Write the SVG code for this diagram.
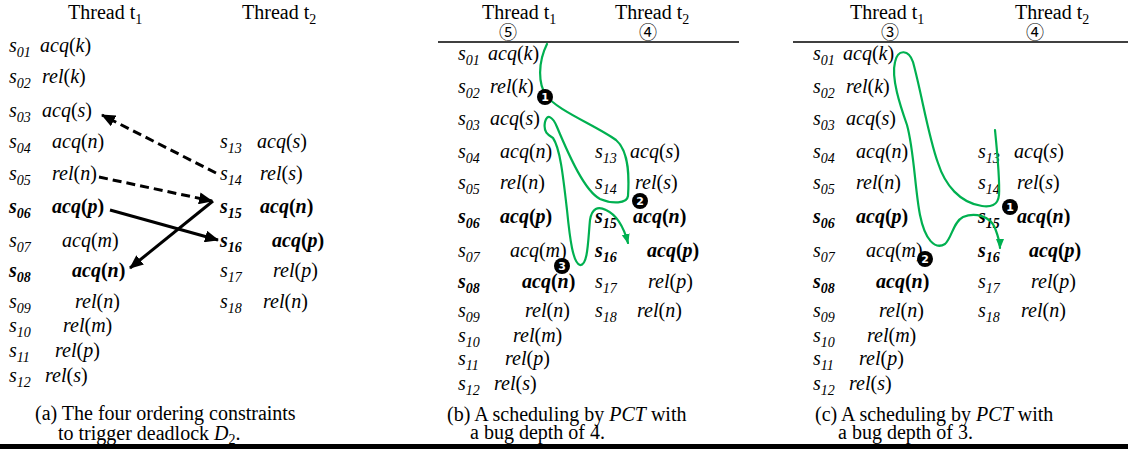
<svg xmlns="http://www.w3.org/2000/svg" width="1128" height="449" viewBox="0 0 1128 449">
<style>
.t{font-family:"Liberation Serif","Times New Roman",serif;font-size:20px;fill:#000}
.i{font-style:italic}
.b{font-weight:bold}
.n{font-style:normal}
.sub{font-size:14px}
.cn{font-family:"Noto Sans CJK SC","DejaVu Sans",sans-serif;font-size:18px;text-anchor:middle;fill:#000}
.dash{fill:none;stroke:#000;stroke-width:3;stroke-dasharray:9 5}
.solid{fill:none;stroke:#000;stroke-width:3}
.g{fill:none;stroke:#00B050;stroke-width:2.2;stroke-linecap:round}
.dot{fill:#000}
.dn{font-family:"DejaVu Sans","Liberation Sans",sans-serif;font-size:11px;font-weight:bold;fill:#fff;text-anchor:middle}
.rule{stroke:#000;stroke-width:1.5}
</style>
<defs>
<marker id="ah" markerWidth="14" markerHeight="12" refX="13" refY="6" orient="auto" markerUnits="userSpaceOnUse">
<path d="M0,0 L14,6 L0,12 Z" fill="#000"/>
</marker>
<marker id="gh" markerWidth="10" markerHeight="10" refX="9" refY="5" orient="auto" markerUnits="userSpaceOnUse">
<path d="M0,1 L10,5 L0,9 Z" fill="#00B050"/>
</marker>
</defs>
<rect width="1128" height="449" fill="#fff"/>

<!-- ===== Panel (a) ===== -->
<g id="a-head">
<text class="t" x="68" y="19">Thread t<tspan class="sub" dy="5">1</tspan></text>
<text class="t" x="242" y="19">Thread t<tspan class="sub" dy="5">2</tspan></text>
</g>
<g id="a-s01"><text class="t i" x="9" y="52">s<tspan class="sub" dy="5">01</tspan></text><text class="t i" x="40" y="52">acq<tspan class="n">(</tspan>k<tspan class="n">)</tspan></text></g>
<g id="a-s02"><text class="t i" x="9" y="83">s<tspan class="sub" dy="5">02</tspan></text><text class="t i" x="42" y="83">rel<tspan class="n">(</tspan>k<tspan class="n">)</tspan></text></g>
<g id="a-s03"><text class="t i" x="9" y="117">s<tspan class="sub" dy="5">03</tspan></text><text class="t i" x="42" y="117">acq<tspan class="n">(</tspan>s<tspan class="n">)</tspan></text></g>
<g id="a-s04"><text class="t i" x="9" y="148">s<tspan class="sub" dy="5">04</tspan></text><text class="t i" x="52" y="148">acq<tspan class="n">(</tspan>n<tspan class="n">)</tspan></text></g>
<g id="a-s05"><text class="t i" x="9" y="180">s<tspan class="sub" dy="5">05</tspan></text><text class="t i" x="52" y="180">rel<tspan class="n">(</tspan>n<tspan class="n">)</tspan></text></g>
<g id="a-s06"><text class="t i b" x="9" y="213">s<tspan class="sub" dy="5">06</tspan></text><text class="t i b" x="52" y="213">acq<tspan class="n">(</tspan>p<tspan class="n">)</tspan></text></g>
<g id="a-s07"><text class="t i" x="9" y="247">s<tspan class="sub" dy="5">07</tspan></text><text class="t i" x="62" y="247">acq<tspan class="n">(</tspan>m<tspan class="n">)</tspan></text></g>
<g id="a-s08"><text class="t i b" x="9" y="277">s<tspan class="sub" dy="5">08</tspan></text><text class="t i b" x="72" y="277">acq<tspan class="n">(</tspan>n<tspan class="n">)</tspan></text></g>
<g id="a-s09"><text class="t i" x="9" y="308">s<tspan class="sub" dy="5">09</tspan></text><text class="t i" x="75" y="308">rel<tspan class="n">(</tspan>n<tspan class="n">)</tspan></text></g>
<g id="a-s10"><text class="t i" x="9" y="332">s<tspan class="sub" dy="5">10</tspan></text><text class="t i" x="63" y="332">rel<tspan class="n">(</tspan>m<tspan class="n">)</tspan></text></g>
<g id="a-s11"><text class="t i" x="9" y="357">s<tspan class="sub" dy="5">11</tspan></text><text class="t i" x="55" y="357">rel<tspan class="n">(</tspan>p<tspan class="n">)</tspan></text></g>
<g id="a-s12"><text class="t i" x="9" y="382">s<tspan class="sub" dy="5">12</tspan></text><text class="t i" x="45" y="382">rel<tspan class="n">(</tspan>s<tspan class="n">)</tspan></text></g>
<g id="a-s13"><text class="t i" x="220" y="148">s<tspan class="sub" dy="5">13</tspan></text><text class="t i" x="257" y="148">acq<tspan class="n">(</tspan>s<tspan class="n">)</tspan></text></g>
<g id="a-s14"><text class="t i" x="220" y="180">s<tspan class="sub" dy="5">14</tspan></text><text class="t i" x="260" y="180">rel<tspan class="n">(</tspan>s<tspan class="n">)</tspan></text></g>
<g id="a-s15"><text class="t i b" x="220" y="213">s<tspan class="sub" dy="5">15</tspan></text><text class="t i b" x="260" y="213">acq<tspan class="n">(</tspan>n<tspan class="n">)</tspan></text></g>
<g id="a-s16"><text class="t i b" x="220" y="247">s<tspan class="sub" dy="5">16</tspan></text><text class="t i b" x="272" y="247">acq<tspan class="n">(</tspan>p<tspan class="n">)</tspan></text></g>
<g id="a-s17"><text class="t i" x="220" y="277">s<tspan class="sub" dy="5">17</tspan></text><text class="t i" x="273" y="277">rel<tspan class="n">(</tspan>p<tspan class="n">)</tspan></text></g>
<g id="a-s18"><text class="t i" x="220" y="308">s<tspan class="sub" dy="5">18</tspan></text><text class="t i" x="263" y="308">rel<tspan class="n">(</tspan>n<tspan class="n">)</tspan></text></g>
<g id="a-caption">
<text class="t" x="35" y="420">(a) The four ordering constraints</text>
<text class="t" x="58" y="440">to trigger deadlock <tspan class="i">D</tspan><tspan class="sub" dy="4">2</tspan><tspan dy="-4">.</tspan></text>
</g>
<g id="a-connectors">
<path class="dash" d="M216,173 L102,115" marker-end="url(#ah)"/>
<path class="dash" d="M99,177 L212,201" marker-end="url(#ah)"/>
<path class="solid" d="M110,210 L218,240" marker-end="url(#ah)"/>
<path class="solid" d="M213,201 L130,268" marker-end="url(#ah)"/>
</g>

<!-- ===== Panel (b) ===== -->
<g id="b-head">
<text class="t" x="482" y="19">Thread t<tspan class="sub" dy="5">1</tspan></text>
<text class="cn" x="508" y="39">⑤</text>
<text class="t" x="615" y="19">Thread t<tspan class="sub" dy="5">2</tspan></text>
<text class="cn" x="648" y="39">④</text>
<line class="rule" x1="438" y1="42" x2="739" y2="42"/>
</g>
<g id="b-s01"><text class="t i" x="458" y="60">s<tspan class="sub" dy="5">01</tspan></text><text class="t i" x="488" y="60">acq<tspan class="n">(</tspan>k<tspan class="n">)</tspan></text></g>
<g id="b-s02"><text class="t i" x="458" y="93">s<tspan class="sub" dy="5">02</tspan></text><text class="t i" x="490" y="93">rel<tspan class="n">(</tspan>k<tspan class="n">)</tspan></text></g>
<g id="b-s03"><text class="t i" x="458" y="125">s<tspan class="sub" dy="5">03</tspan></text><text class="t i" x="490" y="125">acq<tspan class="n">(</tspan>s<tspan class="n">)</tspan></text></g>
<g id="b-s04"><text class="t i" x="458" y="158">s<tspan class="sub" dy="5">04</tspan></text><text class="t i" x="500" y="158">acq<tspan class="n">(</tspan>n<tspan class="n">)</tspan></text></g>
<g id="b-s05"><text class="t i" x="458" y="189">s<tspan class="sub" dy="5">05</tspan></text><text class="t i" x="500" y="189">rel<tspan class="n">(</tspan>n<tspan class="n">)</tspan></text></g>
<g id="b-s06"><text class="t i b" x="458" y="223">s<tspan class="sub" dy="5">06</tspan></text><text class="t i b" x="500" y="223">acq<tspan class="n">(</tspan>p<tspan class="n">)</tspan></text></g>
<g id="b-s07"><text class="t i" x="458" y="257">s<tspan class="sub" dy="5">07</tspan></text><text class="t i" x="510" y="257">acq<tspan class="n">(</tspan>m<tspan class="n">)</tspan></text></g>
<g id="b-s08"><text class="t i b" x="458" y="288">s<tspan class="sub" dy="5">08</tspan></text><text class="t i b" x="522" y="288">acq<tspan class="n">(</tspan>n<tspan class="n">)</tspan></text></g>
<g id="b-s09"><text class="t i" x="458" y="317">s<tspan class="sub" dy="5">09</tspan></text><text class="t i" x="525" y="317">rel<tspan class="n">(</tspan>n<tspan class="n">)</tspan></text></g>
<g id="b-s10"><text class="t i" x="458" y="342">s<tspan class="sub" dy="5">10</tspan></text><text class="t i" x="513" y="342">rel<tspan class="n">(</tspan>m<tspan class="n">)</tspan></text></g>
<g id="b-s11"><text class="t i" x="458" y="365">s<tspan class="sub" dy="5">11</tspan></text><text class="t i" x="505" y="365">rel<tspan class="n">(</tspan>p<tspan class="n">)</tspan></text></g>
<g id="b-s12"><text class="t i" x="458" y="390">s<tspan class="sub" dy="5">12</tspan></text><text class="t i" x="494" y="390">rel<tspan class="n">(</tspan>s<tspan class="n">)</tspan></text></g>
<g id="b-s13"><text class="t i" x="595" y="158">s<tspan class="sub" dy="5">13</tspan></text><text class="t i" x="630" y="158">acq<tspan class="n">(</tspan>s<tspan class="n">)</tspan></text></g>
<g id="b-s14"><text class="t i" x="595" y="189">s<tspan class="sub" dy="5">14</tspan></text><text class="t i" x="635" y="189">rel<tspan class="n">(</tspan>s<tspan class="n">)</tspan></text></g>
<g id="b-s15"><text class="t i b" x="595" y="223">s<tspan class="sub" dy="5">15</tspan></text><text class="t i b" x="633" y="223">acq<tspan class="n">(</tspan>n<tspan class="n">)</tspan></text></g>
<g id="b-s16"><text class="t i b" x="595" y="257">s<tspan class="sub" dy="5">16</tspan></text><text class="t i b" x="647" y="257">acq<tspan class="n">(</tspan>p<tspan class="n">)</tspan></text></g>
<g id="b-s17"><text class="t i" x="595" y="288">s<tspan class="sub" dy="5">17</tspan></text><text class="t i" x="648" y="288">rel<tspan class="n">(</tspan>p<tspan class="n">)</tspan></text></g>
<g id="b-s18"><text class="t i" x="595" y="317">s<tspan class="sub" dy="5">18</tspan></text><text class="t i" x="637" y="317">rel<tspan class="n">(</tspan>n<tspan class="n">)</tspan></text></g>
<g id="b-caption">
<text class="t" x="447" y="421">(b) A scheduling by <tspan class="i">PCT</tspan> with</text>
<text class="t" x="470" y="439">a bug depth of 4.</text>
</g>
<g id="b-connectors">
<path class="g" d="M547,44 C538,62 538,84 546,95 C556,110 595,125 616,140 C630,152 629,180 628,196 C627,204 612,204 600,199 C585,191 570,158 557,127 C553,117 547,113 545,122 C543,132 548,135 553,138 C560,148 563,175 567,210 C570,240 573,263 580,265 C588,266 588,240 590,220 C592,208 598,206 606,210 C617,215 624,228 628,243" marker-end="url(#gh)"/>
</g>
<g id="b-mark1"><circle class="dot" cx="545" cy="97" r="8"/><text class="dn" x="545" y="101">1</text></g>
<g id="b-mark2"><circle class="dot" cx="640" cy="201" r="8"/><text class="dn" x="640" y="205">2</text></g>
<g id="b-mark3"><circle class="dot" cx="562" cy="266" r="8"/><text class="dn" x="562" y="270">3</text></g>

<!-- ===== Panel (c) ===== -->
<g id="c-head">
<text class="t" x="850" y="19">Thread t<tspan class="sub" dy="5">1</tspan></text>
<text class="cn" x="890" y="39">③</text>
<text class="t" x="1015" y="19">Thread t<tspan class="sub" dy="5">2</tspan></text>
<text class="cn" x="1035" y="39">④</text>
<line class="rule" x1="793" y1="42" x2="1128" y2="42"/>
</g>
<g id="c-s01"><text class="t i" x="813" y="60">s<tspan class="sub" dy="5">01</tspan></text><text class="t i" x="843" y="60">acq<tspan class="n">(</tspan>k<tspan class="n">)</tspan></text></g>
<g id="c-s02"><text class="t i" x="813" y="93">s<tspan class="sub" dy="5">02</tspan></text><text class="t i" x="846" y="93">rel<tspan class="n">(</tspan>k<tspan class="n">)</tspan></text></g>
<g id="c-s03"><text class="t i" x="813" y="125">s<tspan class="sub" dy="5">03</tspan></text><text class="t i" x="846" y="125">acq<tspan class="n">(</tspan>s<tspan class="n">)</tspan></text></g>
<g id="c-s04"><text class="t i" x="813" y="158">s<tspan class="sub" dy="5">04</tspan></text><text class="t i" x="856" y="158">acq<tspan class="n">(</tspan>n<tspan class="n">)</tspan></text></g>
<g id="c-s05"><text class="t i" x="813" y="189">s<tspan class="sub" dy="5">05</tspan></text><text class="t i" x="856" y="189">rel<tspan class="n">(</tspan>n<tspan class="n">)</tspan></text></g>
<g id="c-s06"><text class="t i b" x="813" y="223">s<tspan class="sub" dy="5">06</tspan></text><text class="t i b" x="856" y="223">acq<tspan class="n">(</tspan>p<tspan class="n">)</tspan></text></g>
<g id="c-s07"><text class="t i" x="813" y="257">s<tspan class="sub" dy="5">07</tspan></text><text class="t i" x="866" y="257">acq<tspan class="n">(</tspan>m<tspan class="n">)</tspan></text></g>
<g id="c-s08"><text class="t i b" x="813" y="288">s<tspan class="sub" dy="5">08</tspan></text><text class="t i b" x="876" y="288">acq<tspan class="n">(</tspan>n<tspan class="n">)</tspan></text></g>
<g id="c-s09"><text class="t i" x="813" y="317">s<tspan class="sub" dy="5">09</tspan></text><text class="t i" x="879" y="317">rel<tspan class="n">(</tspan>n<tspan class="n">)</tspan></text></g>
<g id="c-s10"><text class="t i" x="813" y="342">s<tspan class="sub" dy="5">10</tspan></text><text class="t i" x="867" y="342">rel<tspan class="n">(</tspan>m<tspan class="n">)</tspan></text></g>
<g id="c-s11"><text class="t i" x="813" y="365">s<tspan class="sub" dy="5">11</tspan></text><text class="t i" x="859" y="365">rel<tspan class="n">(</tspan>p<tspan class="n">)</tspan></text></g>
<g id="c-s12"><text class="t i" x="813" y="390">s<tspan class="sub" dy="5">12</tspan></text><text class="t i" x="849" y="390">rel<tspan class="n">(</tspan>s<tspan class="n">)</tspan></text></g>
<g id="c-s13"><text class="t i" x="978" y="158">s<tspan class="sub" dy="5">13</tspan></text><text class="t i" x="1014" y="158">acq<tspan class="n">(</tspan>s<tspan class="n">)</tspan></text></g>
<g id="c-s14"><text class="t i" x="978" y="189">s<tspan class="sub" dy="5">14</tspan></text><text class="t i" x="1017" y="189">rel<tspan class="n">(</tspan>s<tspan class="n">)</tspan></text></g>
<g id="c-s15"><text class="t i b" x="978" y="223">s<tspan class="sub" dy="5">15</tspan></text><text class="t i b" x="1017" y="223">acq<tspan class="n">(</tspan>n<tspan class="n">)</tspan></text></g>
<g id="c-s16"><text class="t i b" x="978" y="257">s<tspan class="sub" dy="5">16</tspan></text><text class="t i b" x="1029" y="257">acq<tspan class="n">(</tspan>p<tspan class="n">)</tspan></text></g>
<g id="c-s17"><text class="t i" x="978" y="288">s<tspan class="sub" dy="5">17</tspan></text><text class="t i" x="1031" y="288">rel<tspan class="n">(</tspan>p<tspan class="n">)</tspan></text></g>
<g id="c-s18"><text class="t i" x="978" y="317">s<tspan class="sub" dy="5">18</tspan></text><text class="t i" x="1021" y="317">rel<tspan class="n">(</tspan>n<tspan class="n">)</tspan></text></g>
<g id="c-caption">
<text class="t" x="815" y="421">(c) A scheduling by <tspan class="i">PCT</tspan> with</text>
<text class="t" x="838" y="439">a bug depth of 3.</text>
</g>
<g id="c-connectors">
<path class="g" d="M995,130 C997,150 1000,180 999,195 C998,206 990,207 982,206 C960,203 945,185 938,163 C928,135 922,95 913,62 C909,50 898,48 895,62 C891,78 900,105 907,125 C914,150 915,190 920,215 C925,240 935,250 945,244 C952,238 953,222 963,217 C975,212 990,216 995,228 C998,236 1000,242 1000,248" marker-end="url(#gh)"/>
</g>
<g id="c-mark1"><circle class="dot" cx="1010" cy="207" r="8"/><text class="dn" x="1010" y="211">1</text></g>
<g id="c-mark2"><circle class="dot" cx="925" cy="259" r="8"/><text class="dn" x="925" y="263">2</text></g>

<rect x="0" y="444" width="1128" height="5" fill="#000"/>
</svg>
